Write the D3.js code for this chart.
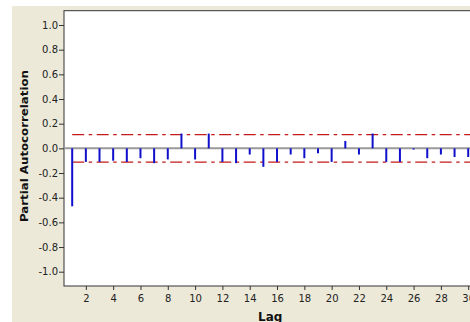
<!DOCTYPE html>
<html>
<head>
<meta charset="utf-8">
<script src="https://cdn.jsdelivr.net/npm/d3@7"></script>
<style>
  body { margin: 0; background: #fff; }
  svg { display: block; }
  .tick text { font-family: "DejaVu Sans", sans-serif; font-size: 10px; fill: #222; }
</style>
</head>
<body>
<svg id="canvas" width="470" height="322"></svg>
<script>
// PACF values
let lags = d3.range(1, 31)
let pacf = [-0.47, -0.11, -0.11, -0.10, -0.11, -0.08, -0.12, -0.09, 0.12, -0.09,
            0.12, -0.11, -0.12, -0.05, -0.15, -0.11, -0.05, -0.08, -0.04, -0.11,
            0.06, -0.05, 0.12, -0.11, -0.11, -0.01, -0.08, -0.05, -0.07, -0.07]
let confLimit = 0.111
let yTicks = [1.0, 0.8, 0.6, 0.4, 0.2, 0.0, -0.2, -0.4, -0.6, -0.8, -1.0]
let xTicks = d3.range(2, 31, 2)

let canvas = d3.select('#canvas')

// beige panel like the window background
canvas.append('rect')
  .attr('x', 12).attr('y', 6)
  .attr('width', 470).attr('height', 330)
  .attr('fill', '#ECE9D8')

let plotLeft = 64, plotTop = 10.7, plotBottom = 286, plotRight = 476.4

let x = d3.scaleLinear().domain([0.4, 30.6]).range([plotLeft, plotRight])
let y = d3.scaleLinear().domain([-1.116, 1.116]).range([plotBottom, plotTop])

// plot area
canvas.append('rect')
  .attr('x', plotLeft).attr('y', plotTop)
  .attr('width', plotRight - plotLeft).attr('height', plotBottom - plotTop)
  .attr('fill', '#fff')
  .attr('stroke', '#333')
  .attr('stroke-width', 1)

// zero line
canvas.append('line')
  .attr('x1', plotLeft).attr('x2', plotRight)
  .attr('y1', y(0)).attr('y2', y(0))
  .attr('stroke', '#9a9a9a')
  .attr('stroke-width', 2)

// confidence limits
canvas.selectAll('line.limit')
  .data([confLimit, -confLimit])
  .enter()
  .append('line')
  .attr('class', 'limit')
  .attr('x1', x(1)).attr('x2', plotRight)
  .attr('y1', d => y(d)).attr('y2', d => y(d))
  .attr('stroke', '#c41a1a')
  .attr('stroke-width', 1.2)
  .attr('stroke-dasharray', '12,4.5,3.5,4.5')

// spikes
canvas.selectAll('line.spike')
  .data(lags)
  .enter()
  .append('line')
  .attr('class', 'spike')
  .attr('x1', d => x(d)).attr('x2', d => x(d))
  .attr('y1', y(0))
  .attr('y2', (d, i) => y(pacf[i]))
  .attr('stroke', '#1010cc')
  .attr('stroke-width', 2)

// axes (plain hyphen for negatives, like the original)
let yAxis = canvas.append('g')
  .attr('transform', `translate(${plotLeft},0)`)
  .call(d3.axisLeft(y).tickValues(yTicks).tickSize(5).tickPadding(1)
    .tickFormat(d => d.toFixed(1)))
yAxis.select('.domain').remove()
yAxis.selectAll('.tick line').attr('stroke', '#333')

let xAxis = canvas.append('g')
  .attr('transform', `translate(0,${plotBottom})`)
  .call(d3.axisBottom(x).tickValues(xTicks).tickSize(4).tickPadding(5))
xAxis.select('.domain').remove()
xAxis.selectAll('.tick line').attr('stroke', '#333')

// axis titles
canvas.append('text')
  .attr('transform', `translate(28,146) rotate(-90)`)
  .attr('text-anchor', 'middle')
  .attr('font-family', 'DejaVu Sans, sans-serif')
  .attr('font-weight', 'bold')
  .attr('font-size', 11)
  .attr('textLength', 152)
  .attr('lengthAdjust', 'spacingAndGlyphs')
  .attr('fill', '#111')
  .text('Partial Autocorrelation')

canvas.append('text')
  .attr('x', (plotLeft + plotRight) / 2)
  .attr('y', 321)
  .attr('text-anchor', 'middle')
  .attr('font-family', 'DejaVu Sans, sans-serif')
  .attr('font-weight', 'bold')
  .attr('font-size', 12)
  .attr('fill', '#111')
  .text('Lag')
</script>
</body>
</html>
